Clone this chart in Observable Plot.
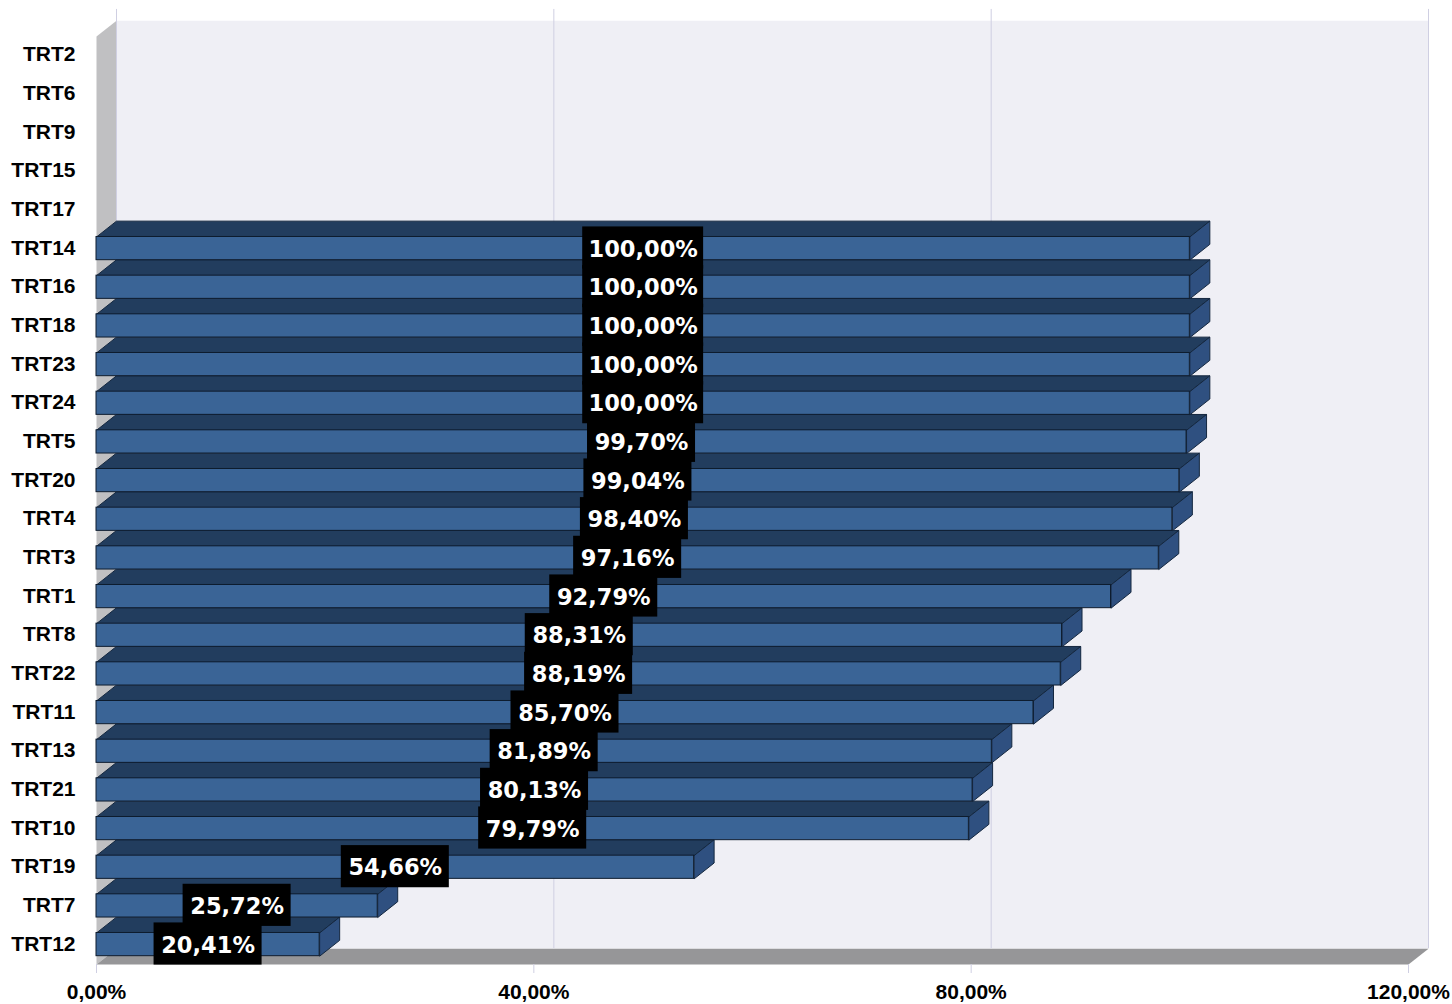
<!DOCTYPE html>
<html>
<head>
<meta charset="utf-8">
<style>html,body{margin:0;padding:0;background:#fff}svg{display:block}</style>
<script src="https://cdn.jsdelivr.net/npm/d3@7"></script>
<script src="https://cdn.jsdelivr.net/npm/@observablehq/plot@0.6"></script>
</head>
<body>
<div id="chart"></div>
<script>
const categories = ["TRT2","TRT6","TRT9","TRT15","TRT17","TRT14","TRT16","TRT18","TRT23","TRT24","TRT5","TRT20","TRT4","TRT3","TRT1","TRT8","TRT22","TRT11","TRT13","TRT21","TRT10","TRT19","TRT7","TRT12"];
const values = [null,null,null,null,null,100,100,100,100,100,99.70,99.04,98.40,97.16,92.79,88.31,88.19,85.70,81.89,80.13,79.79,54.66,25.72,20.41];
const xTicks = [0,40,80,120];

const fmt = d => d.toFixed(2).replace(".", ",") + "%";
const depthX = 1.83, depthY = 0.41;   // oblique depth in data units
const xMax = 120, yMax = categories.length;
const front = {top: 0.185, bottom: 0.785};

const rows = values.map((v,i)=>({i, v, name:categories[i], label: v==null?null:fmt(v)})).filter(d=>d.v!=null);
const poly = (id, pts) => [...pts, pts[0]].map(([x,y])=>({id,x,y}));

const topFaces = rows.flatMap(d=>{const t=d.i+front.top;return poly("t"+d.i,[[0,t],[depthX,t-depthY],[d.v+depthX,t-depthY],[d.v,t]]);});
const sideFaces = rows.flatMap(d=>{const t=d.i+front.top,b=d.i+front.bottom;return poly("s"+d.i,[[d.v,t],[d.v+depthX,t-depthY],[d.v+depthX,b-depthY],[d.v,b]]);});
const backWall = poly("back",[[depthX,-depthY],[xMax+depthX,-depthY],[xMax+depthX,yMax-depthY],[depthX,yMax-depthY]]);
const leftWall = poly("left",[[0,0],[depthX,-depthY],[depthX,yMax-depthY],[0,yMax]]);
const floor = poly("floor",[[0,yMax],[depthX,yMax-depthY],[xMax+depthX,yMax-depthY],[xMax,yMax]]);

const gridColor = "#cfcfe2";
const face = (data, fill, stroke, strokeWidth=1) => Plot.line(data,{x:"x",y:"y",z:"id",fill,stroke,strokeWidth,strokeLinejoin:"miter",curve:"linear"});
const halfBox = d => 0.59*d.label.length + 1.4;

const chart = Plot.plot({
  width:1452, height:1004,
  marginLeft:96, marginRight:44, marginTop:36, marginBottom:40,
  x:{domain:[0,xMax], axis:null},
  y:{domain:[0,yMax], reverse:true, axis:null},
  marks:[
    face(backWall,"#efeff5","none"),
    face(leftWall,"#c0c0c2","none"),
    face(floor,"#969698","none"),
    Plot.ruleX([...xTicks],{x:d=>d+depthX,y1:-0.7,y2:yMax-depthY,stroke:gridColor,strokeWidth:1}),
    Plot.axisX(xTicks,{anchor:"bottom",tickSize:9,tickPadding:11,stroke:gridColor,tickFormat:fmt,label:null,
      fontFamily:"Liberation Sans",fontWeight:"bold",fontSize:21,fill:"#000",strokeOpacity:1}),
    Plot.axisY(categories.map((c,i)=>i+0.47),{anchor:"left",tickSize:0,tickPadding:21,label:null,
      tickFormat:y=>categories[Math.floor(y)],
      fontFamily:"Liberation Sans",fontWeight:"bold",fontSize:21,fill:"#000"}),
    face(topFaces,"#223d5e","#14273f"),
    face(sideFaces,"#2f5080","#14273f"),
    Plot.rect(rows,{x1:0,x2:"v",y1:d=>d.i+front.top,y2:d=>d.i+front.bottom,fill:"#3a6496",stroke:"#0e1c2e",strokeWidth:1}),
    Plot.rect(rows,{
      x1:d=>d.v/2-halfBox(d),
      x2:d=>d.v/2+halfBox(d),
      y1:d=>d.i+0.47-0.545,y2:d=>d.i+0.47+0.545,fill:"#000"}),
    Plot.text(rows,{x:d=>d.v/2,y:d=>d.i+0.51,text:"label",fill:"#fff",
      fontFamily:"DejaVu Sans",fontWeight:"bold",fontSize:22.5,textAnchor:"middle"})
  ]
});
document.getElementById("chart").append(chart);
</script>
</body>
</html>
